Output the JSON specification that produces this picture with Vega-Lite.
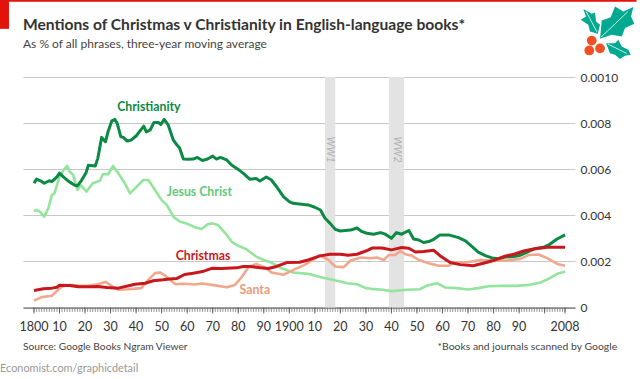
{"$schema":"https://vega.github.io/schema/vega-lite/v6.json","width":552,"height":230.5,"autosize":{"type":"none"},"padding":{"left":23,"top":77,"right":65,"bottom":71.5},"background":"#ffffff","config":{"view":{"stroke":null},"font":"Lato"},
"title":{"text":"Mentions of Christmas v Christianity in English-language books*","subtitle":"As % of all phrases, three-year moving average","anchor":"start","frame":"group","offset":-50,"font":"Lato","fontSize":15.6,"fontWeight":"bold","color":"#333333","subtitleFont":"Lato","subtitleFontSize":12,"subtitleColor":"#444444","subtitlePadding":5},
"datasets":{
"lines":[
{"s":"Christianity","y":1800,"v":0.00539},{"s":"Christianity","y":1801,"v":0.00557},{"s":"Christianity","y":1803,"v":0.00547},{"s":"Christianity","y":1804,"v":0.00539},{"s":"Christianity","y":1806,"v":0.0055},{"s":"Christianity","y":1807,"v":0.00546},{"s":"Christianity","y":1809,"v":0.00567},{"s":"Christianity","y":1810,"v":0.00583},{"s":"Christianity","y":1811.5,"v":0.00567},{"s":"Christianity","y":1813,"v":0.00553},{"s":"Christianity","y":1814,"v":0.00544},{"s":"Christianity","y":1816,"v":0.0053},{"s":"Christianity","y":1817,"v":0.00528},{"s":"Christianity","y":1818.7,"v":0.00553},{"s":"Christianity","y":1820.4,"v":0.00585},{"s":"Christianity","y":1821.3,"v":0.00617},{"s":"Christianity","y":1824,"v":0.00614},{"s":"Christianity","y":1825,"v":0.00647},{"s":"Christianity","y":1826.5,"v":0.00738},{"s":"Christianity","y":1828,"v":0.00719},{"s":"Christianity","y":1829,"v":0.00762},{"s":"Christianity","y":1830.5,"v":0.0081},{"s":"Christianity","y":1831.7,"v":0.00816},{"s":"Christianity","y":1832.6,"v":0.00799},{"s":"Christianity","y":1834,"v":0.00741},{"s":"Christianity","y":1835,"v":0.00738},{"s":"Christianity","y":1836.5,"v":0.00722},{"s":"Christianity","y":1838,"v":0.00726},{"s":"Christianity","y":1840,"v":0.00744},{"s":"Christianity","y":1843,"v":0.00787},{"s":"Christianity","y":1844,"v":0.00762},{"s":"Christianity","y":1845.5,"v":0.0077},{"s":"Christianity","y":1847,"v":0.00803},{"s":"Christianity","y":1848.7,"v":0.00803},{"s":"Christianity","y":1849.7,"v":0.00794},{"s":"Christianity","y":1851,"v":0.00816},{"s":"Christianity","y":1852.6,"v":0.00791},{"s":"Christianity","y":1854.6,"v":0.00726},{"s":"Christianity","y":1856,"v":0.00705},{"s":"Christianity","y":1857,"v":0.00693},{"s":"Christianity","y":1858.5,"v":0.00644},{"s":"Christianity","y":1860.4,"v":0.00643},{"s":"Christianity","y":1862.4,"v":0.00644},{"s":"Christianity","y":1864,"v":0.00651},{"s":"Christianity","y":1866,"v":0.00638},{"s":"Christianity","y":1868,"v":0.00644},{"s":"Christianity","y":1870,"v":0.00657},{"s":"Christianity","y":1871.5,"v":0.00644},{"s":"Christianity","y":1873,"v":0.00651},{"s":"Christianity","y":1875.5,"v":0.0064},{"s":"Christianity","y":1877.4,"v":0.00618},{"s":"Christianity","y":1880,"v":0.00599},{"s":"Christianity","y":1882,"v":0.00582},{"s":"Christianity","y":1884.6,"v":0.00556},{"s":"Christianity","y":1887,"v":0.0056},{"s":"Christianity","y":1888.5,"v":0.00549},{"s":"Christianity","y":1891,"v":0.00566},{"s":"Christianity","y":1893,"v":0.00553},{"s":"Christianity","y":1895,"v":0.00524},{"s":"Christianity","y":1897.7,"v":0.00481},{"s":"Christianity","y":1900,"v":0.00459},{"s":"Christianity","y":1901.5,"v":0.00452},{"s":"Christianity","y":1904,"v":0.00449},{"s":"Christianity","y":1907.4,"v":0.00445},{"s":"Christianity","y":1910,"v":0.00435},{"s":"Christianity","y":1912.2,"v":0.00423},{"s":"Christianity","y":1914,"v":0.00387},{"s":"Christianity","y":1916,"v":0.00365},{"s":"Christianity","y":1918,"v":0.00339},{"s":"Christianity","y":1920,"v":0.00332},{"s":"Christianity","y":1922,"v":0.00334},{"s":"Christianity","y":1924,"v":0.00336},{"s":"Christianity","y":1926.5,"v":0.00345},{"s":"Christianity","y":1928.5,"v":0.00329},{"s":"Christianity","y":1930.4,"v":0.00322},{"s":"Christianity","y":1933,"v":0.00318},{"s":"Christianity","y":1935.7,"v":0.00325},{"s":"Christianity","y":1937.6,"v":0.00318},{"s":"Christianity","y":1940,"v":0.003},{"s":"Christianity","y":1942,"v":0.00325},{"s":"Christianity","y":1944,"v":0.00318},{"s":"Christianity","y":1946.8,"v":0.00334},{"s":"Christianity","y":1948.7,"v":0.00297},{"s":"Christianity","y":1950.7,"v":0.00293},{"s":"Christianity","y":1952.6,"v":0.00282},{"s":"Christianity","y":1954.6,"v":0.00286},{"s":"Christianity","y":1956.6,"v":0.00296},{"s":"Christianity","y":1959,"v":0.00315},{"s":"Christianity","y":1962.4,"v":0.00315},{"s":"Christianity","y":1966.3,"v":0.00303},{"s":"Christianity","y":1969,"v":0.00289},{"s":"Christianity","y":1971.6,"v":0.00264},{"s":"Christianity","y":1974,"v":0.0024},{"s":"Christianity","y":1977,"v":0.00224},{"s":"Christianity","y":1979.4,"v":0.00215},{"s":"Christianity","y":1982,"v":0.00212},{"s":"Christianity","y":1984.6,"v":0.00219},{"s":"Christianity","y":1988,"v":0.00221},{"s":"Christianity","y":1990.5,"v":0.00227},{"s":"Christianity","y":1993.8,"v":0.00243},{"s":"Christianity","y":1996.4,"v":0.00256},{"s":"Christianity","y":1999.6,"v":0.00261},{"s":"Christianity","y":2002,"v":0.00274},{"s":"Christianity","y":2004.9,"v":0.00297},{"s":"Christianity","y":2008,"v":0.00315},
{"s":"Jesus Christ","y":1800,"v":0.00419},{"s":"Jesus Christ","y":1801,"v":0.00423},{"s":"Jesus Christ","y":1802.3,"v":0.00416},{"s":"Jesus Christ","y":1804,"v":0.00394},{"s":"Jesus Christ","y":1805.6,"v":0.0043},{"s":"Jesus Christ","y":1807,"v":0.00488},{"s":"Jesus Christ","y":1808,"v":0.00495},{"s":"Jesus Christ","y":1810,"v":0.00567},{"s":"Jesus Christ","y":1811.5,"v":0.00596},{"s":"Jesus Christ","y":1813,"v":0.00615},{"s":"Jesus Christ","y":1814,"v":0.00589},{"s":"Jesus Christ","y":1815.4,"v":0.00575},{"s":"Jesus Christ","y":1817,"v":0.0051},{"s":"Jesus Christ","y":1818.3,"v":0.00531},{"s":"Jesus Christ","y":1820.6,"v":0.00503},{"s":"Jesus Christ","y":1823,"v":0.00539},{"s":"Jesus Christ","y":1825.8,"v":0.0055},{"s":"Jesus Christ","y":1827,"v":0.00578},{"s":"Jesus Christ","y":1829,"v":0.00578},{"s":"Jesus Christ","y":1831,"v":0.00614},{"s":"Jesus Christ","y":1833,"v":0.00582},{"s":"Jesus Christ","y":1835.6,"v":0.00539},{"s":"Jesus Christ","y":1837.6,"v":0.00495},{"s":"Jesus Christ","y":1839.6,"v":0.00517},{"s":"Jesus Christ","y":1842.8,"v":0.00553},{"s":"Jesus Christ","y":1844.8,"v":0.00553},{"s":"Jesus Christ","y":1847.4,"v":0.0051},{"s":"Jesus Christ","y":1850,"v":0.00466},{"s":"Jesus Christ","y":1852,"v":0.00445},{"s":"Jesus Christ","y":1854.6,"v":0.00394},{"s":"Jesus Christ","y":1857,"v":0.00373},{"s":"Jesus Christ","y":1860.4,"v":0.00362},{"s":"Jesus Christ","y":1863,"v":0.00348},{"s":"Jesus Christ","y":1865.7,"v":0.00341},{"s":"Jesus Christ","y":1868,"v":0.00361},{"s":"Jesus Christ","y":1870,"v":0.00365},{"s":"Jesus Christ","y":1872,"v":0.00358},{"s":"Jesus Christ","y":1875,"v":0.00322},{"s":"Jesus Christ","y":1877.4,"v":0.00286},{"s":"Jesus Christ","y":1879.4,"v":0.00271},{"s":"Jesus Christ","y":1883.3,"v":0.00252},{"s":"Jesus Christ","y":1887,"v":0.00221},{"s":"Jesus Christ","y":1890,"v":0.00206},{"s":"Jesus Christ","y":1893,"v":0.00195},{"s":"Jesus Christ","y":1897,"v":0.0017},{"s":"Jesus Christ","y":1901.6,"v":0.00152},{"s":"Jesus Christ","y":1907.4,"v":0.00146},{"s":"Jesus Christ","y":1912,"v":0.00132},{"s":"Jesus Christ","y":1916,"v":0.00123},{"s":"Jesus Christ","y":1920,"v":0.00113},{"s":"Jesus Christ","y":1922.6,"v":0.00105},{"s":"Jesus Christ","y":1926.5,"v":0.00101},{"s":"Jesus Christ","y":1930,"v":0.00084},{"s":"Jesus Christ","y":1932,"v":0.00081},{"s":"Jesus Christ","y":1936.7,"v":0.00077},{"s":"Jesus Christ","y":1940,"v":0.00071},{"s":"Jesus Christ","y":1946,"v":0.00077},{"s":"Jesus Christ","y":1951,"v":0.00079},{"s":"Jesus Christ","y":1954,"v":0.00095},{"s":"Jesus Christ","y":1958,"v":0.00105},{"s":"Jesus Christ","y":1961,"v":0.00087},{"s":"Jesus Christ","y":1965.7,"v":0.00084},{"s":"Jesus Christ","y":1970,"v":0.00078},{"s":"Jesus Christ","y":1974,"v":0.00084},{"s":"Jesus Christ","y":1978,"v":0.00092},{"s":"Jesus Christ","y":1983,"v":0.00094},{"s":"Jesus Christ","y":1989,"v":0.00094},{"s":"Jesus Christ","y":1993.8,"v":0.00098},{"s":"Jesus Christ","y":1998,"v":0.00107},{"s":"Jesus Christ","y":2002,"v":0.00127},{"s":"Jesus Christ","y":2005.5,"v":0.00149},{"s":"Jesus Christ","y":2008,"v":0.00155},
{"s":"Santa","y":1800,"v":0.0003},{"s":"Santa","y":1803,"v":0.00045},{"s":"Santa","y":1807,"v":0.00051},{"s":"Santa","y":1809,"v":0.00072},{"s":"Santa","y":1811,"v":0.00091},{"s":"Santa","y":1814,"v":0.00098},{"s":"Santa","y":1817.4,"v":0.00095},{"s":"Santa","y":1821,"v":0.00094},{"s":"Santa","y":1825,"v":0.00101},{"s":"Santa","y":1828,"v":0.00111},{"s":"Santa","y":1830.4,"v":0.00094},{"s":"Santa","y":1833,"v":0.00077},{"s":"Santa","y":1837,"v":0.00079},{"s":"Santa","y":1839.6,"v":0.00082},{"s":"Santa","y":1842,"v":0.00084},{"s":"Santa","y":1844.8,"v":0.0012},{"s":"Santa","y":1847.4,"v":0.00149},{"s":"Santa","y":1849.3,"v":0.00152},{"s":"Santa","y":1851.3,"v":0.00139},{"s":"Santa","y":1855.4,"v":0.00101},{"s":"Santa","y":1858.5,"v":0.00103},{"s":"Santa","y":1863,"v":0.001},{"s":"Santa","y":1866,"v":0.00104},{"s":"Santa","y":1871.5,"v":0.00095},{"s":"Santa","y":1875.5,"v":0.00088},{"s":"Santa","y":1878.7,"v":0.00098},{"s":"Santa","y":1881.3,"v":0.00131},{"s":"Santa","y":1884,"v":0.00175},{"s":"Santa","y":1887,"v":0.00189},{"s":"Santa","y":1891,"v":0.0017},{"s":"Santa","y":1893,"v":0.00152},{"s":"Santa","y":1897.7,"v":0.00142},{"s":"Santa","y":1901.6,"v":0.00163},{"s":"Santa","y":1906,"v":0.00185},{"s":"Santa","y":1912,"v":0.00226},{"s":"Santa","y":1915.4,"v":0.00206},{"s":"Santa","y":1918,"v":0.00178},{"s":"Santa","y":1921.3,"v":0.00175},{"s":"Santa","y":1924,"v":0.00204},{"s":"Santa","y":1928,"v":0.00217},{"s":"Santa","y":1931.7,"v":0.00214},{"s":"Santa","y":1934.4,"v":0.00217},{"s":"Santa","y":1937,"v":0.00206},{"s":"Santa","y":1939,"v":0.00228},{"s":"Santa","y":1941.5,"v":0.00228},{"s":"Santa","y":1943.5,"v":0.00245},{"s":"Santa","y":1945.5,"v":0.00231},{"s":"Santa","y":1948,"v":0.00225},{"s":"Santa","y":1950.7,"v":0.00206},{"s":"Santa","y":1954.6,"v":0.00192},{"s":"Santa","y":1958.5,"v":0.00181},{"s":"Santa","y":1962.4,"v":0.00181},{"s":"Santa","y":1964.4,"v":0.00196},{"s":"Santa","y":1969.6,"v":0.00196},{"s":"Santa","y":1975,"v":0.00206},{"s":"Santa","y":1980,"v":0.00204},{"s":"Santa","y":1985,"v":0.00204},{"s":"Santa","y":1990.5,"v":0.00211},{"s":"Santa","y":1993.8,"v":0.00228},{"s":"Santa","y":1997.7,"v":0.0023},{"s":"Santa","y":2001,"v":0.00214},{"s":"Santa","y":2005,"v":0.00189},{"s":"Santa","y":2008,"v":0.00181},
{"s":"Christmas","y":1800,"v":0.00074},{"s":"Christmas","y":1803.7,"v":0.00081},{"s":"Christmas","y":1807,"v":0.00084},{"s":"Christmas","y":1809,"v":0.00088},{"s":"Christmas","y":1810,"v":0.00097},{"s":"Christmas","y":1814,"v":0.00095},{"s":"Christmas","y":1817.4,"v":0.0009},{"s":"Christmas","y":1822,"v":0.0009},{"s":"Christmas","y":1825,"v":0.00091},{"s":"Christmas","y":1828.5,"v":0.00087},{"s":"Christmas","y":1833,"v":0.00084},{"s":"Christmas","y":1837,"v":0.00094},{"s":"Christmas","y":1839.6,"v":0.00101},{"s":"Christmas","y":1843.5,"v":0.00105},{"s":"Christmas","y":1846.7,"v":0.00116},{"s":"Christmas","y":1850.6,"v":0.0012},{"s":"Christmas","y":1853,"v":0.00124},{"s":"Christmas","y":1856,"v":0.00126},{"s":"Christmas","y":1859,"v":0.00143},{"s":"Christmas","y":1862.4,"v":0.00149},{"s":"Christmas","y":1866,"v":0.00156},{"s":"Christmas","y":1869.6,"v":0.0017},{"s":"Christmas","y":1873.5,"v":0.00169},{"s":"Christmas","y":1879.4,"v":0.00172},{"s":"Christmas","y":1882,"v":0.00178},{"s":"Christmas","y":1884.6,"v":0.00178},{"s":"Christmas","y":1888.5,"v":0.00172},{"s":"Christmas","y":1891.8,"v":0.00169},{"s":"Christmas","y":1895,"v":0.00178},{"s":"Christmas","y":1899,"v":0.00195},{"s":"Christmas","y":1904,"v":0.00196},{"s":"Christmas","y":1907.4,"v":0.00206},{"s":"Christmas","y":1912,"v":0.00224},{"s":"Christmas","y":1916,"v":0.00231},{"s":"Christmas","y":1920,"v":0.00231},{"s":"Christmas","y":1923,"v":0.00227},{"s":"Christmas","y":1926.5,"v":0.00231},{"s":"Christmas","y":1930,"v":0.00245},{"s":"Christmas","y":1932.4,"v":0.00258},{"s":"Christmas","y":1936.3,"v":0.00258},{"s":"Christmas","y":1940,"v":0.0025},{"s":"Christmas","y":1944,"v":0.0026},{"s":"Christmas","y":1946.8,"v":0.00257},{"s":"Christmas","y":1949.4,"v":0.00241},{"s":"Christmas","y":1952.6,"v":0.00243},{"s":"Christmas","y":1956.6,"v":0.00248},{"s":"Christmas","y":1959,"v":0.00225},{"s":"Christmas","y":1963,"v":0.00195},{"s":"Christmas","y":1967,"v":0.00186},{"s":"Christmas","y":1972,"v":0.00181},{"s":"Christmas","y":1976,"v":0.00192},{"s":"Christmas","y":1980,"v":0.00204},{"s":"Christmas","y":1984,"v":0.00221},{"s":"Christmas","y":1988,"v":0.00231},{"s":"Christmas","y":1991.8,"v":0.00245},{"s":"Christmas","y":1995.7,"v":0.00254},{"s":"Christmas","y":2001,"v":0.00261},{"s":"Christmas","y":2008,"v":0.00261}
],
"years":[{"y":1800},{"y":1801},{"y":1802},{"y":1803},{"y":1804},{"y":1805},{"y":1806},{"y":1807},{"y":1808},{"y":1809},{"y":1810},{"y":1811},{"y":1812},{"y":1813},{"y":1814},{"y":1815},{"y":1816},{"y":1817},{"y":1818},{"y":1819},{"y":1820},{"y":1821},{"y":1822},{"y":1823},{"y":1824},{"y":1825},{"y":1826},{"y":1827},{"y":1828},{"y":1829},{"y":1830},{"y":1831},{"y":1832},{"y":1833},{"y":1834},{"y":1835},{"y":1836},{"y":1837},{"y":1838},{"y":1839},{"y":1840},{"y":1841},{"y":1842},{"y":1843},{"y":1844},{"y":1845},{"y":1846},{"y":1847},{"y":1848},{"y":1849},{"y":1850},{"y":1851},{"y":1852},{"y":1853},{"y":1854},{"y":1855},{"y":1856},{"y":1857},{"y":1858},{"y":1859},{"y":1860},{"y":1861},{"y":1862},{"y":1863},{"y":1864},{"y":1865},{"y":1866},{"y":1867},{"y":1868},{"y":1869},{"y":1870},{"y":1871},{"y":1872},{"y":1873},{"y":1874},{"y":1875},{"y":1876},{"y":1877},{"y":1878},{"y":1879},{"y":1880},{"y":1881},{"y":1882},{"y":1883},{"y":1884},{"y":1885},{"y":1886},{"y":1887},{"y":1888},{"y":1889},{"y":1890},{"y":1891},{"y":1892},{"y":1893},{"y":1894},{"y":1895},{"y":1896},{"y":1897},{"y":1898},{"y":1899},{"y":1900},{"y":1901},{"y":1902},{"y":1903},{"y":1904},{"y":1905},{"y":1906},{"y":1907},{"y":1908},{"y":1909},{"y":1910},{"y":1911},{"y":1912},{"y":1913},{"y":1914},{"y":1915},{"y":1916},{"y":1917},{"y":1918},{"y":1919},{"y":1920},{"y":1921},{"y":1922},{"y":1923},{"y":1924},{"y":1925},{"y":1926},{"y":1927},{"y":1928},{"y":1929},{"y":1930},{"y":1931},{"y":1932},{"y":1933},{"y":1934},{"y":1935},{"y":1936},{"y":1937},{"y":1938},{"y":1939},{"y":1940},{"y":1941},{"y":1942},{"y":1943},{"y":1944},{"y":1945},{"y":1946},{"y":1947},{"y":1948},{"y":1949},{"y":1950},{"y":1951},{"y":1952},{"y":1953},{"y":1954},{"y":1955},{"y":1956},{"y":1957},{"y":1958},{"y":1959},{"y":1960},{"y":1961},{"y":1962},{"y":1963},{"y":1964},{"y":1965},{"y":1966},{"y":1967},{"y":1968},{"y":1969},{"y":1970},{"y":1971},{"y":1972},{"y":1973},{"y":1974},{"y":1975},{"y":1976},{"y":1977},{"y":1978},{"y":1979},{"y":1980},{"y":1981},{"y":1982},{"y":1983},{"y":1984},{"y":1985},{"y":1986},{"y":1987},{"y":1988},{"y":1989},{"y":1990},{"y":1991},{"y":1992},{"y":1993},{"y":1994},{"y":1995},{"y":1996},{"y":1997},{"y":1998},{"y":1999},{"y":2000},{"y":2001},{"y":2002},{"y":2003},{"y":2004},{"y":2005},{"y":2006},{"y":2007},{"y":2008}],
"xlabels":[{"y":1800,"l":"1800"},{"y":1810,"l":"10"},{"y":1820,"l":"20"},{"y":1830,"l":"30"},{"y":1840,"l":"40"},{"y":1850,"l":"50"},{"y":1860,"l":"60"},{"y":1870,"l":"70"},{"y":1880,"l":"80"},{"y":1890,"l":"90"},{"y":1900,"l":"1900"},{"y":1910,"l":"10"},{"y":1920,"l":"20"},{"y":1930,"l":"30"},{"y":1940,"l":"40"},{"y":1950,"l":"50"},{"y":1960,"l":"60"},{"y":1970,"l":"70"},{"y":1980,"l":"80"},{"y":1990,"l":"90"},{"y":2008,"l":"2008"}],
"wars":[{"a":1914,"b":1918,"m":1916,"n":"WW1"},{"a":1939,"b":1945,"m":1942,"n":"WW2"}],
"series":[{"t":"Christianity","y":1845,"v":0.00868,"c":"#0a8a45"},{"t":"Jesus Christ","y":1864.8,"v":0.00502,"c":"#63c97c"},{"t":"Christmas","y":1866.2,"v":0.00222,"c":"#c8171d"},{"t":"Santa","y":1886.5,"v":0.00075,"c":"#ec9a7a"}],
"berries":[{"y":2018.45,"v":0.01158},{"y":2017.5,"v":0.01115},{"y":2021.7,"v":0.01124}]
},
"encoding":{},
"layer":[
{"data":{"name":"wars"},"mark":{"type":"rect","color":"#e3e3e3"},"encoding":{"x":{"field":"a","type":"quantitative","scale":{"domain":[1795.7,2011.9],"nice":false,"zero":false},"axis":{"labels":false,"title":null,"grid":false,"domain":true,"domainColor":"#555555","domainWidth":1,"ticks":false}},"x2":{"field":"b"},"y":{"datum":0,"type":"quantitative","scale":{"domain":[0,0.01],"nice":false},"axis":{"values":[0,0.002,0.004,0.006,0.008,0.01],"labelExpr":"datum.value==0?'0':datum.value==0.01?'0.0010':format(datum.value,'.3f')","orient":"right","title":null,"grid":true,"gridColor":"#c8c8c8","gridWidth":1,"domain":false,"ticks":false,"labelFont":"Lato","labelFontSize":12,"labelColor":"#333333","labelPadding":5}},"y2":{"datum":0.01}}},
{"data":{"name":"years"},"mark":{"type":"rule","color":"#777777","strokeWidth":0.8},"encoding":{"x":{"field":"y","type":"quantitative"},"y":{"datum":0},"y2":{"datum":-0.00019}}},
{"data":{"name":"years"},"transform":[{"filter":"datum.y%10==0||datum.y==2008"}],"mark":{"type":"rule","color":"#555555","strokeWidth":0.9},"encoding":{"x":{"field":"y","type":"quantitative"},"y":{"datum":0},"y2":{"datum":-0.00026}}},
{"data":{"name":"xlabels"},"mark":{"type":"text","font":"Lato","fontSize":12.5,"color":"#333333","align":"center"},"encoding":{"x":{"field":"y","type":"quantitative"},"y":{"datum":-0.00084},"text":{"field":"l"}}},
{"data":{"name":"wars"},"mark":{"type":"text","angle":90,"fontStyle":"italic","fontSize":10.5,"font":"Lato","color":"#b0b0b0"},"encoding":{"x":{"field":"m","type":"quantitative"},"y":{"datum":0.00685},"text":{"field":"n"}}},
{"data":{"name":"lines"},"transform":[{"filter":"datum.s=='Jesus Christ'"}],"mark":{"type":"line","color":"#93e49c","strokeWidth":2.6,"strokeJoin":"round"},"encoding":{"x":{"field":"y","type":"quantitative"},"y":{"field":"v","type":"quantitative"}}},
{"data":{"name":"lines"},"transform":[{"filter":"datum.s=='Santa'"}],"mark":{"type":"line","color":"#f2a78c","strokeWidth":2.6,"strokeJoin":"round"},"encoding":{"x":{"field":"y","type":"quantitative"},"y":{"field":"v","type":"quantitative"}}},
{"data":{"name":"lines"},"transform":[{"filter":"datum.s=='Christianity'"}],"mark":{"type":"line","color":"#0a8a45","strokeWidth":3,"strokeJoin":"round"},"encoding":{"x":{"field":"y","type":"quantitative"},"y":{"field":"v","type":"quantitative"}}},
{"data":{"name":"lines"},"transform":[{"filter":"datum.s=='Christmas'"}],"mark":{"type":"line","color":"#c8171d","strokeWidth":3,"strokeJoin":"round"},"encoding":{"x":{"field":"y","type":"quantitative"},"y":{"field":"v","type":"quantitative"}}},
{"data":{"name":"series"},"mark":{"type":"text","font":"Lato","fontSize":12.3,"fontWeight":"bold","align":"center"},"encoding":{"x":{"field":"y","type":"quantitative"},"y":{"field":"v","type":"quantitative"},"text":{"field":"t"},"color":{"field":"c","type":"nominal","scale":null}}},
{"data":{"values":[{"t":"Source: Google Books Ngram Viewer"}]},"mark":{"type":"text","font":"Lato","fontSize":10.2,"align":"left","color":"#444444"},"encoding":{"x":{"datum":1795.7},"y":{"datum":-0.00172},"text":{"field":"t"}}},
{"data":{"values":[{"t":"*Books and journals scanned by Google"}]},"mark":{"type":"text","font":"Lato","fontSize":10.4,"align":"right","color":"#444444"},"encoding":{"x":{"datum":2028.4},"y":{"datum":-0.00172},"text":{"field":"t"}}},
{"data":{"values":[{"t":"Economist.com/graphicdetail"}]},"mark":{"type":"text","font":"Lato","fontSize":10.9,"align":"left","color":"#999999"},"encoding":{"x":{"datum":1786.7},"y":{"datum":-0.00267},"text":{"field":"t"}}},
{"data":{"values":[{"p":"strip"}]},"mark":{"type":"rect","color":"#e3120b"},"encoding":{"x":{"datum":1786.7},"x2":{"datum":2036},"y":{"datum":0.01334},"y2":{"datum":0.01327}}},
{"data":{"values":[{"p":"block"}]},"mark":{"type":"rect","color":"#e3120b"},"encoding":{"x":{"datum":1786.7},"x2":{"datum":1790.2},"y":{"datum":0.01334},"y2":{"datum":0.01209}}},
{"data":{"values":[{"p":"holly"}]},"mark":{"type":"point","filled":true,"opacity":1,"color":"#00a98f","size":2916,"shape":"M-0.185,0.259L-0.122,-0.419L0.211,-0.544L0.370,-0.937L0.678,-0.752L1.048,-0.915L0.963,-0.567L1.085,-0.296L0.741,-0.137L0.619,0.174L0.248,0.111ZM-0.804,-0.841L-0.493,-0.667L-0.370,-0.715L-0.333,-0.381L-0.185,-0.259L-0.270,0.074L-0.556,-0.011L-0.619,-0.259L-0.900,-0.444L-0.704,-0.567ZM0.037,0.419L0.370,0.419L0.493,0.296L0.619,0.544L0.863,0.667L0.952,0.852L0.741,0.889L0.556,1.011L0.370,0.852L0.185,0.789Z"},"encoding":{"x":{"datum":2023.66},"y":{"datum":0.01196}}},
{"data":{"values":[{"p":"veins"}]},"mark":{"type":"point","filled":false,"opacity":1,"stroke":"#ffffff","strokeWidth":0.8,"size":2916,"shape":"M-0.15,0.2L0.85,-0.75M-0.7,-0.75L-0.3,0M0.1,0.45L0.8,0.8"},"encoding":{"x":{"datum":2023.66},"y":{"datum":0.01196}}},
{"data":{"name":"berries"},"mark":{"type":"point","shape":"circle","filled":true,"opacity":1,"color":"#f04e23","size":95},"encoding":{"x":{"field":"y","type":"quantitative"},"y":{"field":"v","type":"quantitative"}}}
]}
